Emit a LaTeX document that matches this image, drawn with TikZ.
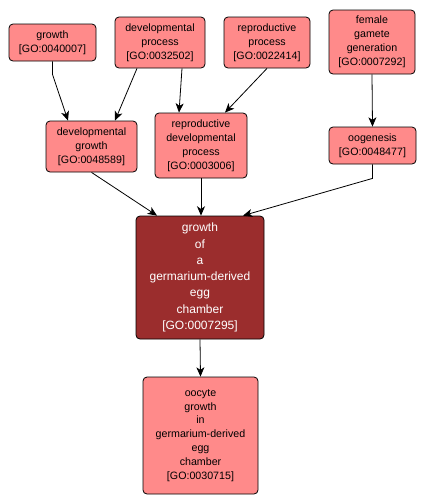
\documentclass[tikz,border=0pt]{standalone}
\usepackage{fontspec}
\setmainfont{Liberation Sans}
\usetikzlibrary{calc,arrows.meta}
\definecolor{termfill}{RGB}{255,138,138}
\definecolor{focusfill}{RGB}{155,45,45}
\begin{document}
\begin{tikzpicture}[x=0.75pt,y=-0.75pt,>={Stealth[length=7pt,width=6pt,inset=2pt]},
    term/.style={draw=black,line width=0.6pt,fill=termfill,rounded corners=3pt,inner sep=0pt,align=center,
        font=\fontsize{8pt}{10.4pt}\selectfont},
    focus/.style={term,fill=focusfill,text=white,font=\fontsize{9pt}{12.2pt}\selectfont},
    link/.style={->,line width=0.6pt}]
    \useasboundingbox (0,0) rectangle (426,497);

    % 上层的节点
    \node[term,minimum width=65.25pt,minimum height=27.75pt] (growth) at (52.5,42.5) {growth\\{[GO:0040007]}};
    \node[term,minimum width=67.5pt,minimum height=38.25pt] (devproc) at (160,42.5) {developmental\\process\\{[GO:0032502]}};
    \node[term,minimum width=64.5pt,minimum height=38.25pt] (reproproc) at (267,42.5) {reproductive\\process\\{[GO:0022414]}};
    \node[term,minimum width=64.5pt,minimum height=48pt] (femgamete) at (372,42) {female\\gamete\\generation\\{[GO:0007292]}};

    % 中间的节点
    \node[term,minimum width=68.25pt,minimum height=38.25pt] (devgrowth) at (91.5,146.5) {developmental\\growth\\{[GO:0048589]}};
    \node[term,minimum width=69pt,minimum height=48.75pt] (reprodev) at (201,145.5) {reproductive\\developmental\\process\\{[GO:0003006]}};
    \node[term,minimum width=65.25pt,minimum height=27.75pt] (oogenesis) at (372.5,145.5) {oogenesis\\{[GO:0048477]}};

    % 当前条目及其子条目
    \node[focus,minimum width=96pt,minimum height=92.25pt] (chamber) at (200,277.5) {growth\\of\\a\\germarium-derived\\egg\\chamber\\{[GO:0007295]}};
    \node[term,minimum width=86.25pt,minimum height=87.75pt] (oocyte) at (200.5,435.5) {oocyte\\growth\\in\\germarium-derived\\egg\\chamber\\{[GO:0030715]}};

    % 连线
    \draw[link] (growth.south) -- ++(0,13) -- ($(devgrowth.north)+(-23.5,0)$);
    \draw[link] ($(devproc.south)+(-23,0)$) -- ($(devgrowth.north)+(23.5,0)$);
    \draw[link] ($(devproc.south)+(22,0)$) -- ($(reprodev.north)+(-22,0)$);
    \draw[link] (reproproc.south) -- ($(reprodev.north)+(24,0)$);
    \draw[link] (femgamete.south) -- (oogenesis.north);
    \draw[link] (devgrowth.south) -- ($(chamber.north)+(-43,0)$);
    \draw[link] (reprodev.south) -- (reprodev.south |- chamber.north);
    \draw[link] (oogenesis.south) -- ++(0,14) -- ($(chamber.north)+(43,0)$);
    \draw[link] (chamber.south) -- (oocyte.north);
\end{tikzpicture}
\end{document}
